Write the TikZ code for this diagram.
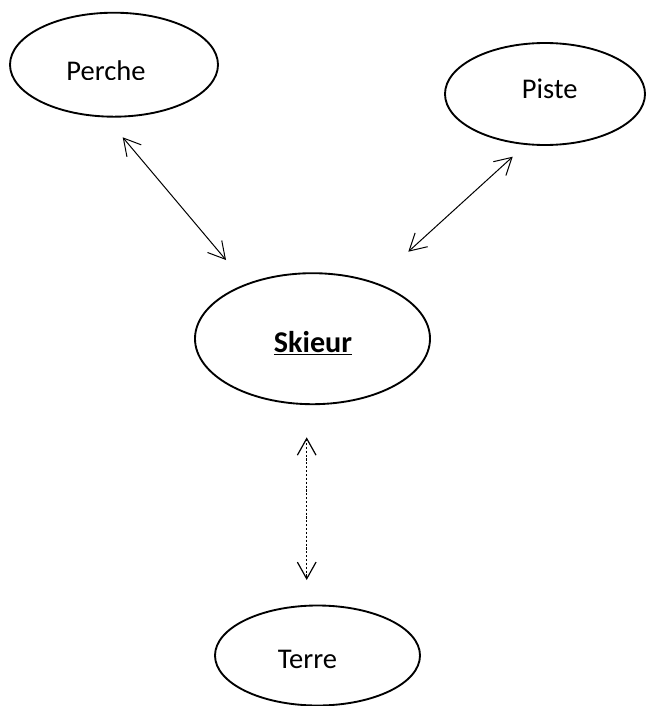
\documentclass[tikz,border=0pt]{standalone}
\usepackage{fontspec}
\setmainfont{Carlito}
\usetikzlibrary{shapes.geometric,arrows.meta}
\tikzset{
  oval/.style={ellipse, draw=black, line width=1.4pt, inner sep=0pt, outer sep=0pt},
  lbl/.style={inner sep=0pt, outer sep=0pt, font=\fontsize{21.4}{25}\selectfont, anchor=base},
  link/.style={line width=0.75pt, {Straight Barb[length=12.5pt,width=14pt]}-{Straight Barb[length=12.5pt,width=14pt]}},
  dotlink/.style={link, line width=0.9pt, dash pattern=on 1.6pt off 1.3pt}
}
\begin{document}
\begin{tikzpicture}[x=0.75pt,y=-0.75pt]
\useasboundingbox (0,0) rectangle (647,706);
% ellipses
\node[oval, minimum width=208*0.75pt, minimum height=104*0.75pt] (perche) at (114,64.7) {};
\node[oval, minimum width=200*0.75pt, minimum height=102*0.75pt] (piste) at (545,94) {};
\node[oval, minimum width=235*0.75pt, minimum height=131*0.75pt] (skieur) at (312.5,338.7) {};
\node[oval, minimum width=205*0.75pt, minimum height=100*0.75pt] (terre) at (317.5,655.5) {};
% labels
\begin{scope}
  \clip (0,0) rectangle (647,79.5);
  \node[lbl] (tperche) at (106,81) {Perche};
\end{scope}
\node[lbl] (tpiste) at (549.7,98.3) {Piste};
\node[lbl, font=\fontsize{22.6}{26}\selectfont] (tskieur) at (313,352.5) {\underline{\textbf{Skieur}}};
\node[lbl] (tterre) at (307.5,668) {Terre};
% connector end points
\coordinate (a1) at (122.7,137.3);
\coordinate (a2) at (226,260);
\coordinate (b1) at (512.7,156.7);
\coordinate (b2) at (408.3,251.7);
\coordinate (c1) at (306.7,437.3);
\coordinate (c2) at (306.7,580);
% connectors
\draw[link] (a1) -- (a2);
\draw[link] (b1) -- (b2);
\draw[dotlink] (c1) -- (c2);
\end{tikzpicture}
\end{document}
